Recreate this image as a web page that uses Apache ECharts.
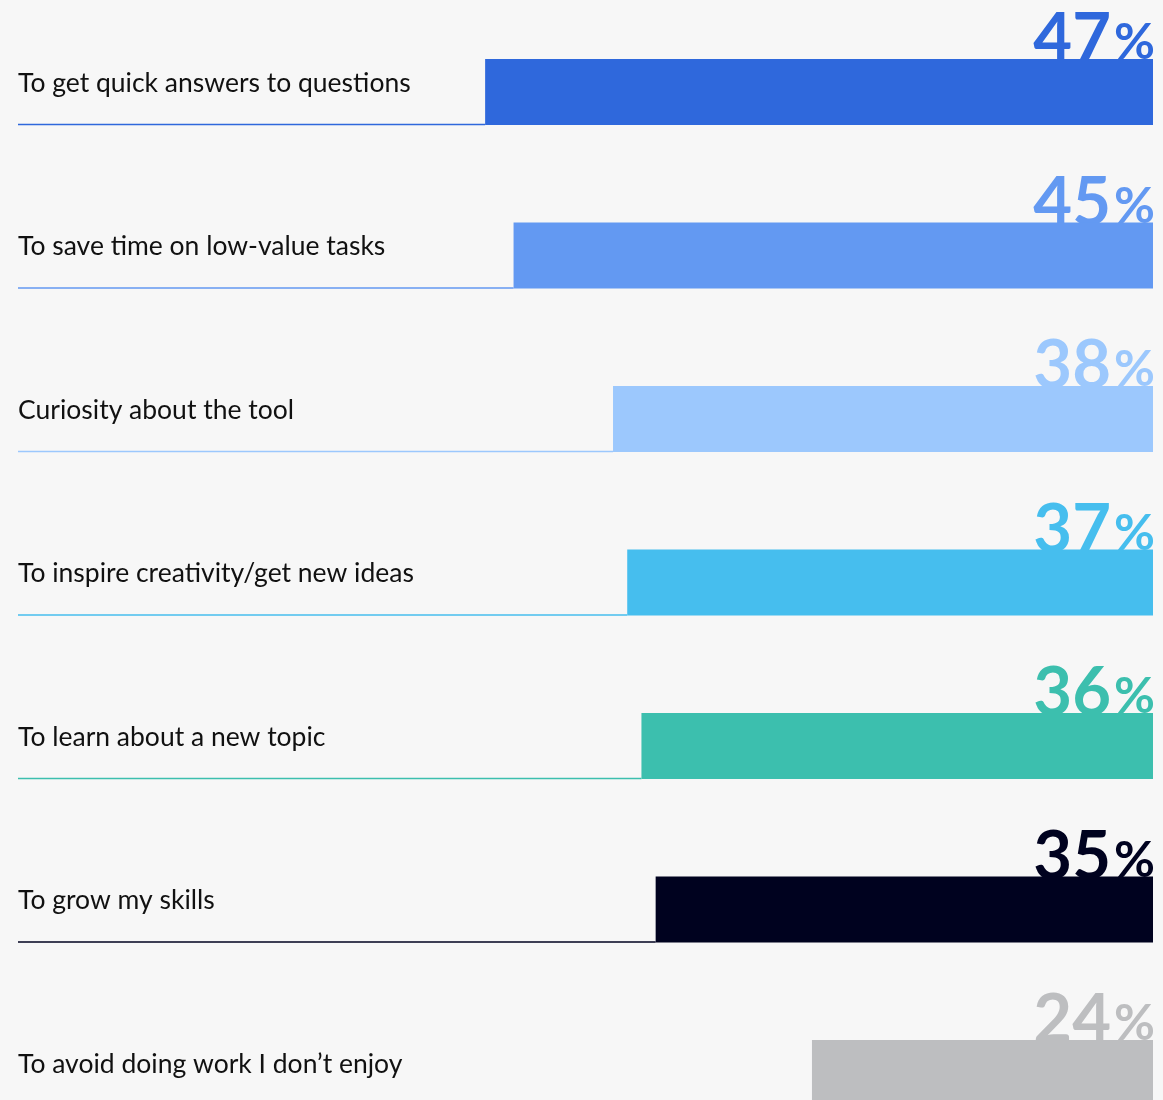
<!DOCTYPE html>
<html>
<head>
<meta charset="utf-8">
<script src="https://cdn.jsdelivr.net/npm/echarts@6/dist/echarts.min.js"></script>
<style>
  html, body { margin: 0; padding: 0; background: #f7f7f7; }
  #chart { width: 1163px; height: 1100px; }
</style>
</head>
<body>
<div id="chart"></div>
<script>
// reasons for using the tool
let categories = [
    'To get quick answers to questions',
    'To save time on low-value tasks',
    'Curiosity about the tool',
    'To inspire creativity/get new ideas',
    'To learn about a new topic',
    'To grow my skills',
    'To avoid doing work I don\u2019t enjoy'
];
let values = [47, 45, 38, 37, 36, 35, 24];
let barColors = ['#2f68dc', '#6399f2', '#9cc8fd', '#46beee', '#3cbfae', '#00021f', '#bdbec0'];

let fontName = 'Lato, "Noto Sans", sans-serif';

let chart = echarts.init(document.getElementById('chart'), null, {renderer: 'canvas'});

let seriesData = [];
for (let i = 0; i < values.length; i++) {
    seriesData.push([i, values[i]]);
}

function renderRow(params, api) {
    let idx = api.value(0);
    let val = api.value(1);
    let color = barColors[idx];
    let right = api.coord([0, idx]);
    let left = api.coord([val, idx]);
    let cy = right[1];
    let h = 66;
    let x0 = params.coordSys.x + 18;
    return {
        type: 'group',
        children: [
            // big number sits behind the bar
            {
                type: 'text', z2: 1,
                style: {
                    x: right[0] - 42, y: cy - 19,
                    text: String(val),
                    fill: color,
                    font: 'bold 67px ' + fontName,
                    align: 'right', verticalAlign: 'bottom'
                }
            },
            {
                type: 'text', z2: 1,
                style: {
                    x: right[0] + 2, y: cy - 24,
                    text: '%',
                    fill: color,
                    font: 'bold 50px ' + fontName,
                    align: 'right', verticalAlign: 'bottom'
                }
            },
            {
                type: 'rect', z2: 2,
                shape: {x: left[0], y: cy - h / 2, width: right[0] - left[0], height: h},
                style: {fill: color}
            },
            {
                type: 'line', z2: 2,
                shape: {x1: x0, y1: cy + h / 2 - 0.5, x2: left[0], y2: cy + h / 2 - 0.5},
                style: {stroke: color, lineWidth: 1.5}
            },
            {
                type: 'text', z2: 3,
                style: {
                    x: x0, y: cy - 9,
                    text: categories[idx],
                    fill: '#111111',
                    font: '26.5px ' + fontName,
                    align: 'left', verticalAlign: 'middle'
                }
            }
        ]
    };
}

// rows are 163.5px apart, the last one runs off the bottom edge
let option = {
    backgroundColor: '#f7f7f7',
    animation: false,
    grid: {left: 0, right: 10, top: 10.25, bottom: 0},
    xAxis: {
        type: 'value', inverse: true, min: 0, max: 81.14,
        show: false
    },
    yAxis: {
        type: 'value', inverse: true, min: -0.5, max: 6.165,
        show: false
    },
    series: [{
        type: 'custom',
        renderItem: renderRow,
        encode: {x: 1, y: 0},
        data: seriesData,
        clip: false
    }]
};

chart.setOption(option);
</script>
</body>
</html>
